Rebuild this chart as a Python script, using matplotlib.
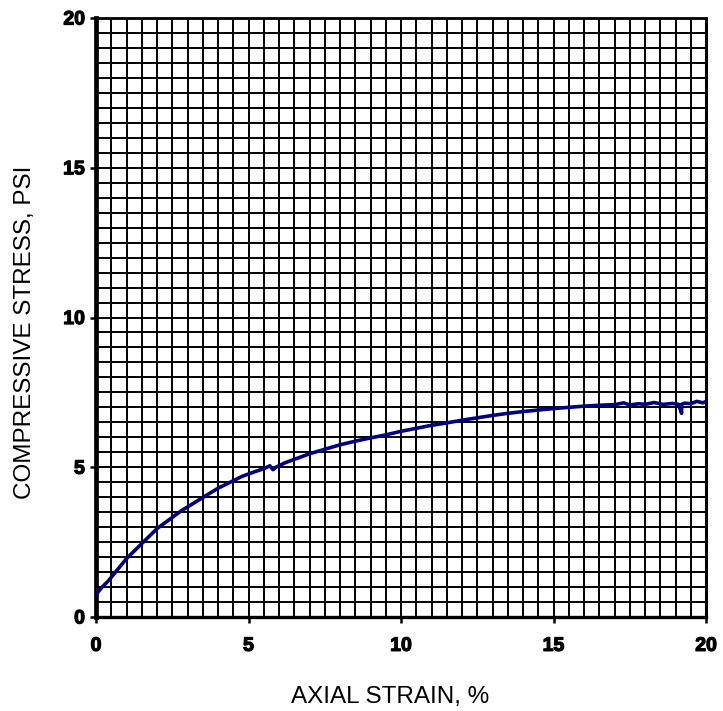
import numpy as np
import matplotlib.pyplot as plt
import matplotlib.patheffects as pe
from matplotlib.ticker import MultipleLocator

# Unconfined compression test: stress vs. axial strain
strain = [0.0, 0.2, 0.4, 0.6, 0.8, 1.0, 1.3, 1.6, 2.0, 2.4, 2.8, 3.2, 3.6,
          4.0, 4.4, 4.8, 5.2, 5.5, 5.7, 5.8, 5.9, 6.2, 6.6, 7.0, 7.5,
          8.0, 8.5, 9.0, 9.5, 10.0, 10.5, 11.0, 11.5, 12.0, 12.5, 13.0,
          13.5, 14.0, 14.5, 15.0, 15.5, 16.0, 16.5, 17.0, 17.3, 17.5,
          17.8, 18.0, 18.3, 18.6, 18.9, 19.1, 19.2, 19.2, 19.3, 19.5,
          19.7, 19.9, 20.0]
stress = [0.75, 1.0, 1.2, 1.45, 1.7, 1.95, 2.25, 2.55, 2.95, 3.25, 3.55,
          3.8, 4.05, 4.3, 4.5, 4.7, 4.85, 4.95, 5.05, 4.92, 5.0, 5.15,
          5.3, 5.45, 5.6, 5.75, 5.87, 5.98, 6.08, 6.2, 6.3, 6.4, 6.48,
          6.57, 6.65, 6.73, 6.8, 6.86, 6.91, 6.96, 7.0, 7.04, 7.07, 7.09,
          7.15, 7.08, 7.12, 7.1, 7.16, 7.1, 7.13, 7.1, 6.8, 7.1, 7.14,
          7.12, 7.2, 7.15, 7.2]

x_ticks = [0, 5, 10, 15, 20]
y_ticks = [0, 5, 10, 15, 20]

fig = plt.figure(figsize=(7.23, 7.11), dpi=100)
ax = fig.add_axes([96 / 723, 1 - 617 / 711, 610 / 723, 599 / 711])

ax.set_xlim(0, 20)
ax.set_ylim(0, 20)

# fine graph-paper grid every 0.5 units
ax.xaxis.set_minor_locator(MultipleLocator(0.5))
ax.yaxis.set_minor_locator(MultipleLocator(0.5))
ax.grid(which='both', color='black', linewidth=1.4)
ax.set_axisbelow(True)

ax.plot(strain, stress, color='#000080', linewidth=2.6, zorder=3)

heavy = [pe.withStroke(linewidth=0.9, foreground='black')]
ax.set_xticks(x_ticks)
ax.set_yticks(y_ticks)
ax.set_xticklabels([str(v) for v in x_ticks], fontfamily='Liberation Sans',
                   fontweight='bold', fontsize=14, path_effects=heavy)
ax.set_yticklabels([str(v) for v in y_ticks], fontfamily='Liberation Sans',
                   fontweight='bold', fontsize=14, path_effects=heavy)
ax.tick_params(which='major', direction='out', length=4, width=1.8)
ax.tick_params(axis='x', which='major', pad=11)
ax.tick_params(axis='y', which='major', pad=4)
ax.tick_params(which='minor', length=0)

ax.spines['left'].set_linewidth(3.4)
ax.spines['bottom'].set_linewidth(2.4)
ax.spines['right'].set_linewidth(2.2)
ax.spines['top'].set_linewidth(2.0)

ax.set_xlabel('AXIAL STRAIN, %', fontfamily='Liberation Sans', fontsize=17.5)
ax.set_ylabel('COMPRESSIVE STRESS, PSI', fontfamily='Liberation Sans',
              fontsize=17.5)
ax.xaxis.set_label_coords(0.482, -0.134)
ax.yaxis.set_label_coords(-0.116, 0.476)
ax.xaxis.label.set_va('center')
ax.yaxis.label.set_va('center')

fig.savefig('out.png', dpi=100)
